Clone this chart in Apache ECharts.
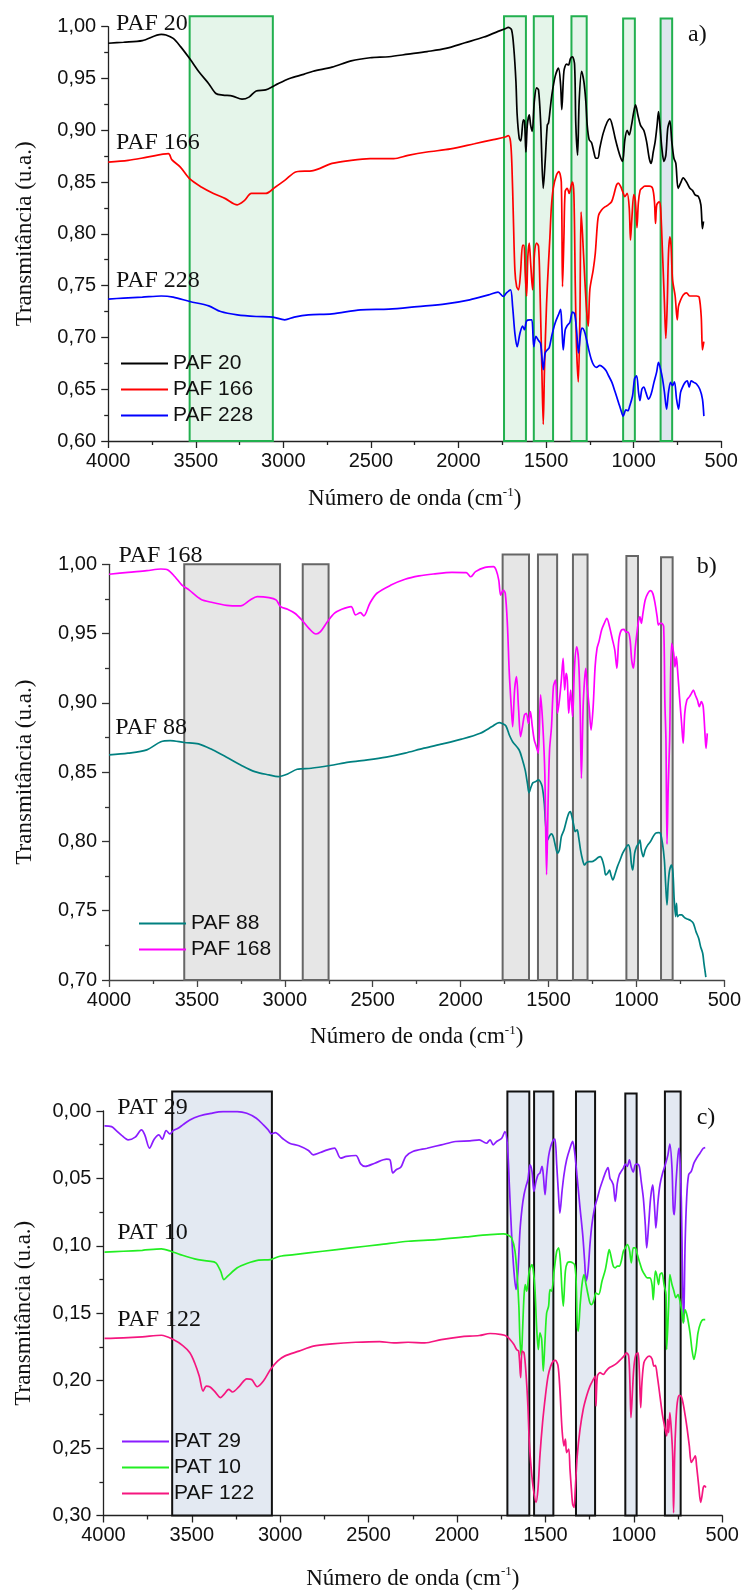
<!DOCTYPE html>
<html>
<head>
<meta charset="utf-8">
<script src="https://cdn.jsdelivr.net/npm/echarts@6/dist/echarts.min.js"></script>
<style>
  html, body { margin: 0; padding: 0; background: #ffffff; }
  #chart { width: 744px; height: 1591px; }
</style>
</head>
<body>
<div id="chart"></div>
<script>
// FTIR spectra, wavenumber (cm-1) vs transmittance (a.u.)

// ---- panel a ----
const paf20 = [[4000,0.984],[3913,0.985],[3805,0.9865],[3697,0.9926],[3670,0.992],[3629,0.9887],[3588,0.981],[3534,0.969],[3480,0.956],[3426,0.945],[3385,0.9355],[3345,0.934],[3290,0.933],[3236,0.930],[3196,0.932],[3155,0.938],[3101,0.939],[3047,0.9435],[2965,0.950],[2884,0.954],[2830,0.957],[2722,0.961],[2613,0.967],[2505,0.970],[2397,0.971],[2288,0.9735],[2180,0.976],[2072,0.979],[1963,0.9845],[1855,0.990],[1774,0.9955],[1733,0.998],[1716,0.9994],[1697,0.997],[1684,0.979],[1672,0.947],[1665,0.915],[1653,0.892],[1644,0.8897],[1630,0.910],[1623,0.909],[1615,0.879],[1607,0.905],[1596,0.915],[1588,0.905],[1579,0.899],[1567,0.928],[1554,0.941],[1543,0.939],[1531,0.908],[1516,0.844],[1505,0.870],[1493,0.905],[1486,0.907],[1478,0.918],[1467,0.934],[1448,0.952],[1429,0.960],[1417,0.944],[1410,0.920],[1398,0.957],[1383,0.964],[1372,0.963],[1360,0.9695],[1349,0.971],[1337,0.963],[1330,0.905],[1320,0.876],[1311,0.928],[1297,0.957],[1284,0.947],[1273,0.928],[1265,0.905],[1254,0.891],[1240,0.888],[1227,0.879],[1216,0.873],[1204,0.873],[1193,0.883],[1174,0.897],[1151,0.908],[1136,0.911],[1120,0.9035],[1105,0.892],[1088,0.881],[1073,0.873],[1063,0.870],[1050,0.891],[1037,0.900],[1025,0.8955],[1012,0.905],[999,0.918],[989,0.9245],[976,0.915],[961,0.905],[942,0.900],[926,0.889],[911,0.873],[900,0.868],[888,0.879],[877,0.889],[866,0.905],[858,0.918],[850,0.905],[839,0.883],[827,0.870],[816,0.876],[805,0.902],[793,0.909],[782,0.889],[770,0.873],[759,0.868],[746,0.844],[732,0.849],[717,0.854],[698,0.850],[679,0.844],[664,0.842],[649,0.8376],[630,0.836],[616,0.828],[607,0.805],[601,0.812]];

const paf166 = [[4000,0.8693],[3886,0.871],[3778,0.874],[3656,0.8774],[3637,0.8716],[3588,0.8645],[3534,0.853],[3466,0.845],[3399,0.839],[3331,0.834],[3263,0.828],[3223,0.832],[3182,0.839],[3101,0.839],[3047,0.845],[2992,0.8516],[2925,0.860],[2830,0.861],[2722,0.868],[2613,0.871],[2505,0.8726],[2370,0.8726],[2288,0.8758],[2180,0.879],[2045,0.882],[1909,0.887],[1801,0.891],[1733,0.8935],[1716,0.8948],[1703,0.889],[1695,0.866],[1687,0.818],[1678,0.765],[1668,0.749],[1657,0.746],[1646,0.762],[1634,0.789],[1626,0.789],[1619,0.762],[1611,0.740],[1604,0.778],[1596,0.791],[1588,0.772],[1577,0.746],[1566,0.781],[1554,0.791],[1543,0.788],[1535,0.749],[1524,0.669],[1516,0.616],[1509,0.669],[1497,0.733],[1486,0.772],[1478,0.797],[1470,0.825],[1459,0.844],[1440,0.857],[1427,0.860],[1413,0.850],[1406,0.749],[1398,0.797],[1391,0.841],[1379,0.844],[1368,0.839],[1356,0.847],[1349,0.850],[1341,0.838],[1333,0.749],[1326,0.691],[1316,0.657],[1307,0.717],[1300,0.821],[1292,0.800],[1280,0.760],[1268,0.725],[1259,0.711],[1250,0.746],[1231,0.765],[1219,0.781],[1208,0.807],[1200,0.818],[1183,0.823],[1164,0.826],[1145,0.828],[1126,0.831],[1111,0.839],[1098,0.847],[1088,0.849],[1075,0.846],[1063,0.841],[1050,0.836],[1037,0.839],[1025,0.825],[1018,0.794],[1010,0.815],[999,0.838],[990,0.832],[981,0.806],[973,0.830],[963,0.842],[953,0.844],[936,0.846],[911,0.846],[892,0.844],[881,0.831],[875,0.810],[868,0.828],[854,0.831],[846,0.825],[835,0.781],[824,0.733],[816,0.699],[808,0.733],[801,0.781],[793,0.797],[786,0.788],[778,0.756],[763,0.740],[751,0.717],[744,0.730],[732,0.736],[717,0.741],[698,0.743],[679,0.740],[660,0.740],[641,0.740],[626,0.739],[614,0.720],[607,0.688],[599,0.696]];

const paf228 = [[4000,0.737],[3913,0.738],[3805,0.7389],[3697,0.740],[3629,0.7389],[3534,0.7347],[3426,0.7305],[3358,0.725],[3263,0.7218],[3155,0.7202],[3060,0.7196],[2992,0.717],[2938,0.7196],[2857,0.7218],[2722,0.7228],[2559,0.7266],[2397,0.7273],[2234,0.7298],[2072,0.7324],[1936,0.7363],[1828,0.7411],[1774,0.7437],[1744,0.7395],[1726,0.743],[1703,0.746],[1691,0.730],[1678,0.704],[1665,0.691],[1649,0.704],[1634,0.711],[1623,0.7074],[1611,0.716],[1592,0.717],[1581,0.717],[1570,0.691],[1558,0.701],[1543,0.697],[1531,0.694],[1516,0.669],[1505,0.685],[1493,0.688],[1482,0.690],[1467,0.702],[1448,0.714],[1429,0.722],[1417,0.727],[1410,0.711],[1402,0.688],[1391,0.707],[1379,0.7115],[1364,0.7147],[1349,0.7245],[1337,0.7228],[1326,0.7074],[1315,0.685],[1303,0.704],[1294,0.709],[1282,0.7064],[1269,0.698],[1257,0.6887],[1242,0.679],[1227,0.673],[1212,0.6711],[1193,0.673],[1174,0.6711],[1158,0.668],[1143,0.663],[1124,0.6566],[1105,0.647],[1086,0.637],[1071,0.629],[1060,0.624],[1044,0.630],[1033,0.6292],[1022,0.634],[1006,0.6437],[995,0.660],[983,0.663],[972,0.647],[964,0.639],[953,0.650],[942,0.652],[930,0.647],[915,0.6405],[900,0.6453],[884,0.6566],[869,0.6662],[858,0.676],[846,0.669],[835,0.660],[824,0.647],[812,0.6308],[801,0.647],[789,0.6566],[778,0.6534],[767,0.6572],[755,0.6405],[744,0.6308],[732,0.647],[717,0.6534],[706,0.6566],[694,0.658],[683,0.652],[671,0.658],[656,0.6566],[641,0.655],[622,0.650],[607,0.6405],[599,0.624]];

// band ranges: [from, to, top]
const bandsA = [[3535,3060,1.010],[1740,1615,1.010],[1570,1460,1.010],[1355,1268,1.010],[1060,993,1.008],[846,780,1.008]];

// ---- panel b ----
const paf168 = [[4000,0.9928],[3892,0.9942],[3785,0.9954],[3705,0.9966],[3665,0.9959],[3625,0.991],[3585,0.985],[3545,0.9815],[3478,0.9748],[3411,0.9724],[3331,0.9704],[3251,0.970],[3197,0.9743],[3157,0.9767],[3090,0.976],[3050,0.9743],[3024,0.9695],[2984,0.9675],[2943,0.9647],[2903,0.9598],[2863,0.9538],[2823,0.9497],[2797,0.9514],[2757,0.9587],[2717,0.9647],[2676,0.9675],[2623,0.9695],[2597,0.9635],[2570,0.9651],[2551,0.9627],[2516,0.9719],[2476,0.9791],[2396,0.985],[2316,0.9892],[2236,0.9916],[2155,0.993],[2049,0.9942],[1968,0.994],[1942,0.991],[1915,0.9947],[1861,0.9978],[1813,0.9983],[1798,0.9959],[1783,0.9886],[1772,0.9778],[1757,0.9814],[1746,0.979],[1734,0.957],[1723,0.9213],[1712,0.8973],[1704,0.8828],[1693,0.9093],[1682,0.919],[1671,0.8973],[1659,0.8756],[1648,0.8828],[1637,0.8913],[1626,0.8925],[1614,0.8852],[1603,0.8937],[1592,0.8828],[1581,0.8732],[1569,0.8684],[1558,0.8636],[1545,0.9057],[1532,0.8828],[1521,0.849],[1511,0.776],[1502,0.830],[1494,0.866],[1483,0.8828],[1472,0.9117],[1460,0.9165],[1449,0.8925],[1438,0.902],[1427,0.9165],[1417,0.9321],[1408,0.9093],[1400,0.9213],[1393,0.9165],[1385,0.8925],[1374,0.9093],[1363,0.890],[1352,0.926],[1340,0.9405],[1329,0.931],[1320,0.8973],[1313,0.8456],[1303,0.8973],[1295,0.9165],[1288,0.925],[1280,0.9117],[1269,0.8973],[1258,0.8804],[1246,0.8973],[1235,0.926],[1224,0.9393],[1213,0.9442],[1198,0.9526],[1183,0.9574],[1168,0.961],[1153,0.955],[1138,0.9466],[1123,0.9381],[1111,0.925],[1100,0.9454],[1085,0.9526],[1070,0.953],[1059,0.951],[1048,0.951],[1036,0.9454],[1027,0.931],[1017,0.925],[1006,0.9405],[995,0.9526],[987,0.9598],[980,0.962],[972,0.9574],[963,0.9646],[950,0.9742],[935,0.979],[920,0.981],[907,0.979],[894,0.9718],[882,0.962],[875,0.9562],[867,0.9574],[856,0.9574],[845,0.955],[838,0.900],[832,0.8732],[826,0.798],[819,0.840],[811,0.873],[800,0.943],[788,0.9357],[781,0.926],[773,0.9333],[766,0.9237],[755,0.9045],[743,0.8853],[734,0.8708],[725,0.8925],[713,0.902],[698,0.9045],[687,0.9069],[676,0.9093],[665,0.9057],[653,0.902],[642,0.8973],[631,0.9009],[620,0.8973],[608,0.8732],[604,0.8672],[597,0.878]];

const paf88 = [[4000,0.8625],[3892,0.8637],[3785,0.8661],[3705,0.872],[3652,0.8728],[3572,0.8714],[3491,0.8704],[3411,0.8661],[3331,0.8608],[3251,0.8552],[3171,0.8504],[3090,0.848],[3037,0.8468],[2984,0.8487],[2930,0.8521],[2850,0.8528],[2743,0.8548],[2636,0.8572],[2529,0.8588],[2423,0.8608],[2316,0.8637],[2209,0.8673],[2102,0.8704],[1995,0.8738],[1888,0.8781],[1821,0.8829],[1781,0.8858],[1761,0.885],[1742,0.8833],[1723,0.8768],[1704,0.872],[1667,0.866],[1648,0.8588],[1633,0.8516],[1620,0.842],[1611,0.8352],[1599,0.8395],[1588,0.8424],[1573,0.8432],[1558,0.8444],[1547,0.8432],[1536,0.8395],[1524,0.8275],[1517,0.8131],[1505,0.801],[1494,0.804],[1483,0.8054],[1472,0.803],[1460,0.7963],[1449,0.7915],[1438,0.7939],[1427,0.8035],[1412,0.8083],[1397,0.8155],[1385,0.8203],[1376,0.8215],[1367,0.8179],[1355,0.8107],[1348,0.8071],[1337,0.8083],[1329,0.8035],[1318,0.7939],[1306,0.7866],[1295,0.783],[1284,0.7847],[1269,0.7854],[1254,0.7854],[1235,0.7866],[1216,0.7886],[1205,0.789],[1194,0.7866],[1183,0.7813],[1175,0.7758],[1164,0.777],[1153,0.7794],[1145,0.7758],[1134,0.7722],[1123,0.7758],[1108,0.7818],[1093,0.7866],[1078,0.7915],[1062,0.7951],[1047,0.7975],[1036,0.7939],[1029,0.7842],[1021,0.7794],[1010,0.7915],[999,0.7963],[987,0.7987],[980,0.801],[972,0.7939],[961,0.789],[950,0.7939],[935,0.7975],[920,0.7999],[905,0.8035],[890,0.806],[875,0.8064],[864,0.806],[852,0.7987],[841,0.7866],[834,0.7698],[826,0.7542],[819,0.7698],[811,0.7794],[800,0.783],[792,0.777],[785,0.7578],[777,0.7458],[772,0.7554],[766,0.7458],[755,0.747],[743,0.747],[732,0.7458],[721,0.7446],[706,0.7438],[691,0.7429],[676,0.7409],[661,0.7349],[646,0.7301],[635,0.7241],[623,0.7193],[616,0.7121],[608,0.7049],[605,0.702]];

const bandsB = [[3572,3027,1.000],[2898,2751,1.000],[1761,1611,1.007],[1560,1451,1.007],[1361,1278,1.007],[1057,991,1.006],[860,794,1.005]];

// ---- panel c ----
const pat29 = [[3994,0.0111],[3954,0.0116],[3927,0.0145],[3900,0.0177],[3860,0.0214],[3820,0.0194],[3785,0.014],[3766,0.0177],[3739,0.0276],[3713,0.0209],[3686,0.0177],[3667,0.0209],[3645,0.0145],[3624,0.017],[3605,0.0145],[3578,0.0128],[3551,0.0103],[3511,0.0066],[3458,0.0037],[3391,0.0017],[3323,0.0005],[3243,0.0005],[3189,0.0017],[3135,0.0054],[3095,0.0103],[3068,0.014],[3049,0.017],[3028,0.016],[2988,0.0202],[2947,0.0239],[2894,0.0258],[2840,0.0293],[2813,0.0325],[2773,0.0308],[2733,0.0288],[2693,0.0276],[2658,0.035],[2626,0.0337],[2572,0.033],[2545,0.0392],[2519,0.0411],[2465,0.0387],[2398,0.0357],[2379,0.0362],[2363,0.046],[2344,0.0436],[2317,0.0416],[2290,0.0337],[2250,0.030],[2169,0.0276],[2089,0.0251],[2008,0.0226],[1927,0.0222],[1874,0.0214],[1834,0.0239],[1813,0.0214],[1795,0.0251],[1776,0.0226],[1747,0.0202],[1729,0.0152],[1715,0.0251],[1704,0.0547],[1691,0.0917],[1678,0.1188],[1666,0.1324],[1655,0.1188],[1644,0.0892],[1632,0.072],[1621,0.0621],[1610,0.0559],[1599,0.051],[1587,0.0399],[1576,0.0448],[1565,0.0596],[1553,0.0522],[1542,0.0473],[1531,0.046],[1519,0.0411],[1512,0.0473],[1502,0.0621],[1493,0.0473],[1482,0.0337],[1470,0.0263],[1455,0.0214],[1446,0.0209],[1436,0.0399],[1427,0.0596],[1418,0.0757],[1406,0.0596],[1395,0.0473],[1380,0.0362],[1361,0.0276],[1346,0.0226],[1335,0.030],[1320,0.0498],[1304,0.072],[1289,0.0917],[1278,0.1114],[1270,0.1262],[1259,0.1188],[1248,0.0991],[1237,0.0843],[1222,0.072],[1206,0.0646],[1191,0.0572],[1172,0.0498],[1158,0.0448],[1146,0.0419],[1135,0.0498],[1124,0.0522],[1116,0.0547],[1105,0.067],[1093,0.0535],[1082,0.0473],[1071,0.0448],[1059,0.0424],[1048,0.0394],[1037,0.0411],[1025,0.0362],[1014,0.0419],[1003,0.0453],[992,0.0399],[980,0.0394],[969,0.0411],[958,0.0522],[946,0.0646],[935,0.0843],[927,0.1015],[916,0.0843],[905,0.0646],[893,0.0547],[886,0.0646],[878,0.0818],[875,0.0867],[863,0.067],[852,0.0547],[837,0.046],[822,0.0399],[807,0.0325],[796,0.0246],[784,0.0424],[777,0.072],[771,0.0769],[762,0.0547],[750,0.0325],[743,0.0276],[731,0.067],[724,0.1286],[718,0.157],[710,0.100],[701,0.0646],[690,0.0473],[675,0.0448],[660,0.0387],[645,0.035],[626,0.0313],[607,0.0276],[596,0.0271]];

const pat10 = [[3994,0.1047],[3887,0.104],[3780,0.1033],[3672,0.1023],[3619,0.104],[3565,0.1065],[3484,0.1097],[3404,0.1114],[3364,0.1126],[3337,0.1188],[3318,0.125],[3297,0.1225],[3243,0.1163],[3189,0.1131],[3122,0.1106],[3055,0.1102],[3001,0.1077],[2921,0.1065],[2760,0.104],[2599,0.1015],[2437,0.0991],[2276,0.0966],[2115,0.0954],[1954,0.0934],[1813,0.0917],[1738,0.0912],[1710,0.0922],[1691,0.0941],[1672,0.104],[1659,0.1237],[1650,0.145],[1644,0.1695],[1636,0.1818],[1629,0.162],[1621,0.1374],[1614,0.1287],[1606,0.1336],[1591,0.1188],[1576,0.1139],[1568,0.1188],[1559,0.1325],[1549,0.162],[1540,0.1769],[1531,0.1645],[1521,0.1695],[1512,0.1929],[1502,0.1695],[1493,0.1498],[1482,0.1448],[1474,0.1325],[1465,0.1336],[1451,0.1188],[1436,0.104],[1425,0.1015],[1414,0.1139],[1406,0.1336],[1399,0.1448],[1387,0.1188],[1376,0.1126],[1361,0.1119],[1346,0.1126],[1335,0.1139],[1327,0.1237],[1320,0.1572],[1314,0.1633],[1304,0.1448],[1293,0.1287],[1282,0.1213],[1270,0.1287],[1259,0.1361],[1248,0.1424],[1238,0.1436],[1225,0.1399],[1214,0.135],[1199,0.1361],[1180,0.1262],[1161,0.1176],[1146,0.1065],[1139,0.1028],[1127,0.109],[1116,0.1151],[1105,0.1163],[1093,0.1151],[1082,0.1151],[1071,0.1114],[1059,0.104],[1048,0.1015],[1037,0.099],[1025,0.1028],[1014,0.1126],[1003,0.1015],[992,0.1015],[980,0.1065],[969,0.1114],[954,0.1176],[939,0.1213],[924,0.1237],[909,0.1237],[897,0.1287],[890,0.140],[878,0.1188],[871,0.1213],[860,0.1287],[852,0.1213],[841,0.1201],[829,0.1287],[818,0.1361],[814,0.1769],[803,0.1448],[796,0.1213],[784,0.1287],[773,0.1336],[762,0.1385],[750,0.1361],[739,0.141],[730,0.1473],[720,0.1572],[711,0.1473],[698,0.1522],[682,0.1645],[671,0.1769],[660,0.1843],[648,0.1769],[637,0.1645],[622,0.1572],[607,0.1547],[596,0.1547]];

const paf122 = [[3994,0.1687],[3887,0.1683],[3780,0.1675],[3672,0.1663],[3605,0.1695],[3551,0.174],[3511,0.1793],[3484,0.1867],[3458,0.1966],[3436,0.2077],[3418,0.204],[3399,0.2045],[3372,0.2077],[3337,0.2126],[3318,0.2102],[3291,0.2065],[3270,0.2084],[3230,0.204],[3189,0.1986],[3162,0.1991],[3130,0.2045],[3095,0.2003],[3055,0.1917],[3015,0.1855],[2975,0.1818],[2894,0.1781],[2813,0.1744],[2706,0.1727],[2572,0.1715],[2438,0.171],[2357,0.172],[2277,0.1715],[2183,0.172],[2089,0.1695],[1981,0.1675],[1874,0.1665],[1813,0.165],[1747,0.1658],[1719,0.167],[1700,0.1695],[1678,0.1732],[1663,0.1769],[1651,0.1781],[1640,0.1978],[1632,0.1781],[1621,0.1793],[1610,0.1941],[1599,0.2188],[1591,0.2459],[1580,0.2656],[1568,0.2804],[1553,0.2903],[1542,0.2804],[1531,0.2558],[1516,0.2311],[1500,0.2114],[1485,0.1966],[1470,0.1892],[1455,0.1855],[1444,0.185],[1429,0.1887],[1418,0.2065],[1406,0.236],[1395,0.2484],[1387,0.2434],[1380,0.2533],[1368,0.2508],[1361,0.2656],[1353,0.2804],[1346,0.2915],[1338,0.294],[1331,0.2804],[1320,0.2558],[1304,0.236],[1286,0.2212],[1267,0.2114],[1248,0.204],[1229,0.1991],[1218,0.1966],[1214,0.2188],[1206,0.1966],[1191,0.1941],[1172,0.1954],[1158,0.193],[1139,0.1904],[1120,0.1892],[1097,0.1872],[1074,0.1843],[1056,0.1818],[1041,0.1793],[1029,0.1818],[1022,0.2015],[1016,0.2274],[1007,0.2065],[999,0.1892],[988,0.1806],[976,0.1793],[969,0.1917],[961,0.220],[954,0.2015],[943,0.1867],[927,0.183],[912,0.1818],[897,0.1838],[886,0.1892],[878,0.1887],[867,0.1966],[852,0.2114],[837,0.2262],[826,0.2336],[814,0.241],[809,0.2286],[803,0.2385],[796,0.2237],[788,0.236],[780,0.2558],[775,0.298],[769,0.2558],[762,0.2311],[754,0.2163],[743,0.2109],[731,0.2119],[720,0.2176],[709,0.2262],[698,0.236],[686,0.2484],[675,0.2607],[663,0.2582],[652,0.2558],[645,0.263],[633,0.2779],[622,0.2903],[614,0.2853],[607,0.2792],[600,0.278],[592,0.2792]];

const bandsC = [[3611,3047,-0.0145],[1715,1591,-0.0145],[1564,1455,-0.0145],[1327,1219,-0.0145],[1048,984,-0.013],[824,735,-0.0145]];

// axis ticks
const xTicks = { min: 500, max: 4000, step: 500 };
const yTicksA = { min: 0.60, max: 1.00, step: 0.05 };
const yTicksB = { min: 0.70, max: 1.00, step: 0.05 };
const yTicksC = { min: 0.00, max: 0.30, step: 0.05 };

// ---------------------------------------------------------------
const SANS = '"Liberation Sans", Arial, sans-serif';
const SERIF = '"Liberation Serif", "Times New Roman", serif';
const INK = '#111111';

const chart = echarts.init(document.getElementById('chart'), null, { renderer: 'canvas' });

const decimalComma = v => v.toFixed(2).replace('.', ',');
const plainInt = v => String(Math.round(v));

function makeXAxis(gridIndex, gap, axisColor) {
  return {
    type: 'value', gridIndex,
    min: xTicks.min, max: xTicks.max, interval: xTicks.step, inverse: true,
    axisLine: { show: true, onZero: false, lineStyle: { color: axisColor, width: 1.3 } },
    axisTick: { show: true, inside: false, length: 7, lineStyle: { color: axisColor, width: 1.3 } },
    minorTick: { show: true, splitNumber: 2, length: 4, lineStyle: { color: axisColor, width: 1.3 } },
    splitLine: { show: false }, minorSplitLine: { show: false },
    axisLabel: { color: INK, fontFamily: SANS, fontSize: 20, margin: 10, formatter: plainInt, showMinLabel: true, showMaxLabel: true },
    name: '{n|Número de onda (cm}{s|-1}{n|)}',
    nameLocation: 'middle', nameGap: gap,
    nameTextStyle: {
      rich: {
        n: { fontFamily: SERIF, fontSize: 23, color: INK, lineHeight: 26 },
        s: { fontFamily: SERIF, fontSize: 13, color: INK, lineHeight: 26, verticalAlign: 'top' }
      }
    }
  };
}

function makeYAxis(gridIndex, ticks, inverse, gap, axisColor) {
  return {
    type: 'value', gridIndex,
    min: ticks.min, max: ticks.max, interval: ticks.step, inverse,
    axisLine: { show: true, onZero: false, lineStyle: { color: axisColor, width: 1.3 } },
    axisTick: { show: true, inside: false, length: 7, lineStyle: { color: axisColor, width: 1.3 } },
    minorTick: { show: true, splitNumber: 2, length: 4, lineStyle: { color: axisColor, width: 1.3 } },
    splitLine: { show: false }, minorSplitLine: { show: false },
    axisLabel: { color: INK, fontFamily: SANS, fontSize: 20, margin: 12, formatter: decimalComma, showMinLabel: true, showMaxLabel: true },
    name: 'Transmitância (u.a.)',
    nameLocation: 'middle', nameGap: gap,
    nameTextStyle: { fontFamily: SERIF, fontSize: 23, color: INK }
  };
}

function spectrum(name, data, color, idx) {
  return {
    type: 'line', name, data, xAxisIndex: idx, yAxisIndex: idx,
    symbol: 'none', showSymbol: false, smooth: 0.3,
    lineStyle: { color, width: 1.7 }, itemStyle: { color },
    z: 3, animation: false
  };
}

// shaded absorption bands, drawn from the band tops down to the x axis
function bandSeries(bands, idx, base, fillFor, stroke) {
  return {
    type: 'custom', xAxisIndex: idx, yAxisIndex: idx, data: bands,
    encode: { x: [0, 1], y: 2 }, z: 1, silent: true, animation: false, clip: false,
    renderItem(params, api) {
      const p = api.coord([api.value(0), api.value(2)]);
      const q = api.coord([api.value(1), base]);
      return {
        type: 'rect',
        shape: {
          x: Math.min(p[0], q[0]), y: Math.min(p[1], q[1]),
          width: Math.abs(q[0] - p[0]), height: Math.abs(q[1] - p[1])
        },
        style: { fill: fillFor(params.dataIndex), stroke, lineWidth: 2 }
      };
    }
  };
}

const GREEN_FILL = '#e5f5ea';
const GREEN_EDGE = '#22b04f';
const BLUE_FILL = '#dfe6f0';

function legendAt(names, left, top) {
  return {
    data: names, orient: 'vertical', left, top, padding: 0,
    icon: 'rect', itemWidth: 47, itemHeight: 2.2, itemGap: 5,
    textStyle: { fontFamily: SANS, fontSize: 21, color: INK, lineHeight: 21 },
    selectedMode: false
  };
}

function tag(text, x, y, size) {
  return {
    type: 'text', x, y, z: 20, silent: true,
    style: { text, font: size + 'px "Liberation Serif", "Times New Roman", serif', fill: INK, verticalAlign: 'middle', align: 'left' }
  };
}

const option = {
  backgroundColor: '#ffffff',
  animation: false,
  grid: [
    { left: 108.2, top: 26.7, width: 613, height: 414.3 },
    { left: 109, top: 564.3, width: 623, height: 415.7 },
    { left: 103.4, top: 1111, width: 618.8, height: 405.7 }
  ],
  xAxis: [
    makeXAxis(0, 45, '#222222'),
    makeXAxis(1, 44, '#444444'),
    makeXAxis(2, 50, '#222222')
  ],
  yAxis: [
    makeYAxis(0, yTicksA, false, 72, '#222222'),
    makeYAxis(1, yTicksB, false, 73, '#333333'),
    makeYAxis(2, yTicksC, true, 68, '#222222')
  ],
  legend: [
    legendAt(['PAF 20', 'PAF 166', 'PAF 228'], 121, 353),
    legendAt(['PAF 88', 'PAF 168'], 139, 913),
    legendAt(['PAT 29', 'PAT 10', 'PAF 122'], 122, 1431)
  ],
  series: [
    bandSeries(bandsA, 0, yTicksA.min, i => (i === bandsA.length - 1 ? BLUE_FILL : GREEN_FILL), GREEN_EDGE),
    bandSeries(bandsB, 1, yTicksB.min, () => '#e6e6e6', '#666666'),
    bandSeries(bandsC, 2, yTicksC.max, () => '#e3e9f2', '#111111'),
    spectrum('PAF 20', paf20, '#000000', 0),
    spectrum('PAF 166', paf166, '#ff0000', 0),
    spectrum('PAF 228', paf228, '#0000ff', 0),
    spectrum('PAF 88', paf88, '#008080', 1),
    spectrum('PAF 168', paf168, '#ff00ff', 1),
    spectrum('PAT 29', pat29, '#8a1cff', 2),
    spectrum('PAT 10', pat10, '#22ee22', 2),
    spectrum('PAF 122', paf122, '#f5167f', 2)
  ],
  graphic: [
    tag('PAF 20', 116, 24, 24),
    tag('PAF 166', 116, 143, 24),
    tag('PAF 228', 116, 280.5, 24),
    tag('a)', 688, 35, 24),
    tag('PAF 168', 118.6, 556, 24),
    tag('PAF 88', 115.3, 727.5, 24),
    tag('b)', 696.7, 567, 24),
    tag('PAT 29', 117.2, 1108, 24),
    tag('PAT 10', 117.2, 1233, 24),
    tag('PAF 122', 117.2, 1320, 24),
    tag('c)', 696.7, 1118, 24)
  ]
};

chart.setOption(option);
</script>
</body>
</html>
